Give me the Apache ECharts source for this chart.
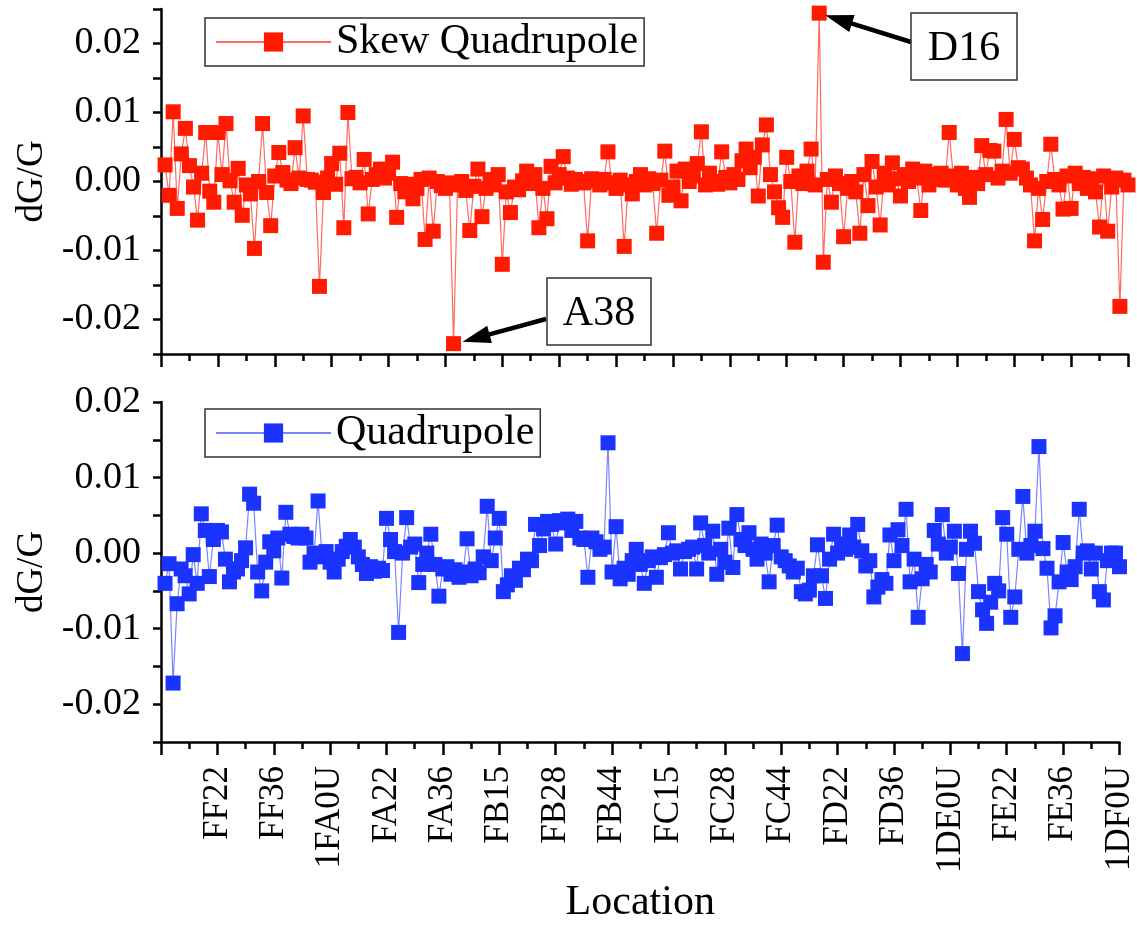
<!DOCTYPE html>
<html><head><meta charset="utf-8">
<script src="https://cdn.jsdelivr.net/npm/echarts@6/dist/echarts.min.js"></script>
<style>html,body{margin:0;padding:0;background:#fff}#c{width:1137px;height:925px}</style>
</head><body><div id="c"></div>
<script>
// x tick labels (every 14 positions)
const tickLabels = ['', 'FF22','FF36','1FA0U','FA22','FA36','FB15','FB28','FB44','FC15','FC28','FC44','FD22','FD36','1DE0U','FE22','FE36','1DF0U'];
const seriesNames = ['Skew Quadrupole', 'Quadrupole'];
// Skew quadrupole dG/G, positions 1..238
const skew = [
 0.0024,-0.0020,0.0101,-0.0039,0.0040,0.0077,0.0023,-0.0008,-0.0056,0.0012,0.0071,-0.0014,-0.0030,0.0071,
 0.0010,0.0084,0.0001,-0.0030,0.0019,-0.0049,-0.0005,-0.0018,-0.0097,0.0000,0.0084,-0.0016,-0.0064,0.0008,
 0.0042,0.0013,0.0002,-0.0003,0.0049,0.0005,0.0095,0.0003,0.0002,-0.0001,-0.0152,-0.0016,0.0005,0.0026,
 -0.0004,0.0041,-0.0067,0.0100,0.0004,0.0006,-0.0002,0.0032,-0.0047,0.0003,0.0010,0.0018,0.0005,0.0012,
 0.0028,-0.0052,-0.0003,-0.0015,-0.0004,-0.0025,-0.0010,0.0003,-0.0084,0.0005,-0.0072,0.0000,-0.0006,-0.0010,
 -0.0002,-0.0235,-0.0005,0.0000,-0.0013,-0.0071,-0.0007,0.0018,-0.0051,-0.0010,0.0003,-0.0005,0.0010,-0.0120,
 -0.0015,-0.0045,-0.0008,-0.0012,0.0001,0.0015,-0.0003,0.0010,-0.0067,-0.0010,-0.0054,0.0022,-0.0002,0.0010,
 0.0036,0.0005,-0.0004,0.0003,0.0000,-0.0002,-0.0086,0.0004,0.0001,-0.0005,0.0003,0.0043,-0.0002,-0.0010,
 0.0002,-0.0094,-0.0005,-0.0018,0.0000,0.0010,-0.0005,0.0004,-0.0003,-0.0075,0.0002,0.0044,-0.0020,-0.0008,
 0.0015,-0.0028,0.0018,0.0000,0.0008,0.0026,0.0072,-0.0005,0.0012,0.0000,-0.0004,0.0043,0.0006,-0.0002,
 0.0010,0.0003,0.0030,0.0047,0.0020,0.0035,-0.0021,0.0053,0.0082,0.0010,-0.0015,-0.0038,-0.0052,0.0035,
 0.0000,-0.0088,0.0008,-0.0003,0.0015,0.0047,-0.0005,0.0244,-0.0117,0.0003,-0.0030,0.0008,-0.0003,-0.0080,
 -0.0010,0.0000,-0.0015,-0.0075,0.0010,-0.0035,0.0029,-0.0008,-0.0063,0.0012,-0.0005,0.0027,0.0004,-0.0021,
 0.0010,0.0000,0.0018,0.0005,-0.0042,0.0015,-0.0005,0.0010,0.0003,0.0012,0.0002,0.0071,0.0008,-0.0005,
 0.0012,-0.0010,-0.0023,0.0006,-0.0003,0.0052,0.0010,0.0045,0.0044,0.0005,0.0015,0.0090,0.0012,0.0061,
 0.0020,0.0018,0.0005,-0.0005,-0.0086,-0.0010,-0.0055,0.0000,0.0054,0.0003,-0.0005,-0.0040,0.0008,-0.0039,
 0.0012,-0.0003,0.0006,-0.0010,0.0004,-0.0015,-0.0066,0.0008,-0.0072,-0.0008,0.0005,-0.0181,0.0002,-0.0005
];
// Quadrupole dG/G, positions 1..238
const quad = [
 -0.0040,-0.0014,-0.0172,-0.0067,-0.0021,-0.0030,-0.0054,-0.0002,-0.0040,0.0052,0.0030,-0.0031,0.0018,0.0030,
 0.0028,-0.0008,-0.0038,-0.0025,-0.0021,-0.0010,0.0007,0.0078,0.0066,-0.0025,-0.0050,-0.0012,0.0015,0.0003,
 0.0020,-0.0033,0.0054,0.0025,0.0022,0.0020,0.0025,0.0020,-0.0012,0.0000,0.0069,-0.0005,0.0002,-0.0012,
 -0.0025,-0.0008,0.0002,0.0009,0.0018,0.0008,-0.0005,-0.0015,-0.0027,-0.0018,-0.0024,-0.0020,-0.0023,0.0046,
 0.0018,0.0002,-0.0105,0.0000,0.0047,0.0008,0.0012,-0.0039,-0.0015,0.0000,0.0025,-0.0015,-0.0057,-0.0021,
 -0.0018,-0.0028,-0.0022,-0.0032,-0.0025,0.0019,-0.0030,-0.0021,-0.0026,-0.0005,0.0062,-0.0010,0.0020,0.0046,
 -0.0051,-0.0042,-0.0030,-0.0036,-0.0020,-0.0022,-0.0008,-0.0010,0.0038,0.0010,0.0032,0.0042,0.0038,0.0012,
 0.0043,0.0040,0.0045,0.0030,0.0042,0.0020,0.0018,-0.0032,0.0020,0.0015,0.0005,0.0008,0.0146,-0.0025,
 0.0035,-0.0034,-0.0020,-0.0028,-0.0010,0.0005,-0.0015,-0.0040,-0.0010,-0.0005,-0.0032,-0.0006,-0.0002,0.0027,
 0.0000,0.0003,-0.0021,0.0002,0.0005,0.0008,-0.0021,0.0040,0.0010,0.0000,0.0029,-0.0028,0.0005,-0.0012,
 0.0033,-0.0019,0.0051,0.0018,0.0010,0.0027,0.0005,-0.0008,0.0012,0.0000,-0.0038,0.0010,0.0037,-0.0005,
 -0.0010,-0.0017,-0.0025,-0.0020,-0.0051,-0.0054,-0.0049,-0.0030,0.0011,-0.0030,-0.0060,-0.0008,0.0025,0.0000,
 0.0012,0.0005,0.0024,0.0008,0.0038,0.0003,-0.0017,-0.0010,-0.0058,-0.0045,-0.0035,-0.0040,0.0024,-0.0010,
 0.0031,0.0010,0.0058,-0.0038,-0.0008,-0.0085,-0.0034,-0.0015,-0.0025,0.0030,0.0012,0.0051,0.0000,0.0008,
 0.0029,-0.0027,-0.0133,0.0005,0.0029,0.0013,-0.0051,-0.0075,-0.0093,-0.0065,-0.0040,-0.0050,0.0047,0.0025,
 -0.0085,-0.0058,0.0005,0.0075,0.0000,0.0010,0.0029,0.0141,0.0006,-0.0020,-0.0099,-0.0083,-0.0038,0.0014,
 -0.0025,-0.0035,-0.0018,0.0058,0.0000,0.0003,-0.0021,0.0000,-0.0051,-0.0062,-0.0010,0.0000,0.0000,-0.0018
];
// annotated points: label, series index, position (1-based)
const notes = [
  {text:'D16', series:0, pos:162},
  {text:'A38', series:0, pos:72}
];

const SERIF = '"Liberation Serif", "Times New Roman", serif';
const chart = echarts.init(document.getElementById('c'), null, {renderer:'canvas'});

function yFmt(v){ const k = Math.round(v*1000); if (k % 10 !== 0) return ''; return (k/1000).toFixed(2); }
function yAxisCfg(g, min, max){
  return {type:'value', gridIndex:g, min:min, max:max, interval:0.005,
    name:'dG/G', nameLocation:'middle', nameGap:108,
    nameTextStyle:{fontFamily:SERIF, fontSize:37, color:'#000'},
    axisLine:{show:true, onZero:false, lineStyle:{color:'#000', width:2.5}},
    axisTick:{show:true, inside:false, length:8, lineStyle:{color:'#000', width:2.5}},
    axisLabel:{fontFamily:SERIF, fontSize:38, color:'#000', margin:20, formatter:yFmt},
    splitLine:{show:false}};
}
function xAxisCfg(g){
  const c = {type:'value', gridIndex:g, min:0, max:14*(tickLabels.length-1), interval:14,
    axisLine:{show:true, onZero:false, lineStyle:{color:'#000', width:2.5}},
    axisTick:{show:true, inside:false, length:13, lineStyle:{color:'#000', width:2.5}},
    minorTick:{show:true, splitNumber:2, length:7, lineStyle:{color:'#000', width:2.5}},
    axisLabel:{show:g===1, rotate:90, fontFamily:SERIF, fontSize:35, color:'#000', margin:24,
      formatter:function(v){ return tickLabels[Math.round(v/14)] || ''; }},
    splitLine:{show:false}, minorSplitLine:{show:false}};
  if (g===1){ c.name='Location'; c.nameLocation='middle'; c.nameGap=140;
    c.nameTextStyle={fontFamily:SERIF, fontSize:42, color:'#000'}; }
  return c;
}
function legendCfg(name, top){
  return {data:[name], left:205, top:top, orient:'horizontal', itemWidth:115, itemHeight:24,
    borderColor:'#333', borderWidth:1.5, padding:[3,6,3,10], backgroundColor:'#fff',
    textStyle:{fontFamily:SERIF, fontSize:42, color:'#000'}};
}
const option = {
  animation:false, backgroundColor:'#fff',
  grid:[{left:161, top:9, width:967, height:345},{left:161, top:402, width:967, height:345}],
  xAxis:[xAxisCfg(0), xAxisCfg(1)],
  yAxis:[yAxisCfg(0,-0.025,0.025), yAxisCfg(1,-0.025,0.02)],
  legend:[legendCfg(seriesNames[0], 18), legendCfg(seriesNames[1], 409)],
  series:[
    {type:'line', name:seriesNames[0], xAxisIndex:0, yAxisIndex:0, symbol:'rect', symbolSize:15,
     data:skew.map((v,i)=>[i+1,v]), itemStyle:{color:'#ff1a00'},
     lineStyle:{color:'rgba(255,80,70,0.85)', width:1.2}, clip:true},
    {type:'line', name:seriesNames[1], xAxisIndex:1, yAxisIndex:1, symbol:'rect', symbolSize:15,
     data:quad.map((v,i)=>[i+1,v]), itemStyle:{color:'#1a33ff'},
     lineStyle:{color:'rgba(100,110,255,0.85)', width:1.2}, clip:true}
  ]
};
chart.setOption(option);

// annotation boxes with arrows, arrow tips anchored on the data points
const boxes = [
  {x:911, y:13, w:106, h:67, sx:911, sy:42, dx:6, dy:2},
  {x:547, y:278, w:104, h:67, sx:546, sy:319, dx:9, dy:-2}
];
const g = [];
notes.forEach(function(n, i){
  const arr = n.series===0 ? skew : quad;
  const p = chart.convertToPixel({seriesIndex:n.series}, [n.pos, arr[n.pos-1]]);
  const b = boxes[i];
  const tx = p[0]+b.dx, ty = p[1]+b.dy;
  const vx = tx-b.sx, vy = ty-b.sy, L = Math.sqrt(vx*vx+vy*vy);
  const ux = vx/L, uy = vy/L, hl = 28, hw = 9;
  const bx = tx-ux*hl, by = ty-uy*hl;
  g.push({type:'line', shape:{x1:b.sx, y1:b.sy, x2:bx+ux*4, y2:by+uy*4}, style:{stroke:'#000', lineWidth:4.5}, z:10});
  g.push({type:'polygon', shape:{points:[[tx,ty],[bx-uy*hw,by+ux*hw],[bx+uy*hw,by-ux*hw]]}, style:{fill:'#000'}, z:10});
  g.push({type:'rect', shape:{x:b.x, y:b.y, width:b.w, height:b.h}, style:{fill:'#fff', stroke:'#333', lineWidth:1.5}, z:10});
  g.push({type:'text', style:{text:n.text, x:b.x+b.w/2, y:b.y+b.h/2+2, font:'42px '+SERIF, fill:'#000', align:'center', verticalAlign:'middle'}, z:11});
});
chart.setOption({graphic:g});
</script></body></html>
